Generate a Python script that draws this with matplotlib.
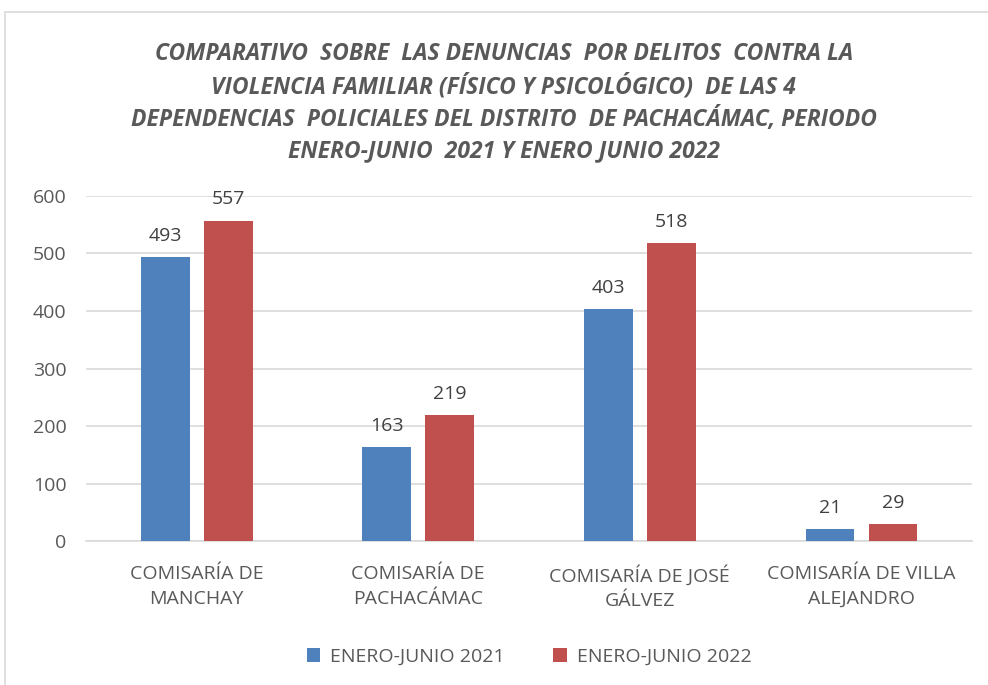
import matplotlib.pyplot as plt
import numpy as np
from matplotlib.patches import Rectangle

categorias = ['COMISARÍA DE\nMANCHAY', 'COMISARÍA DE\nPACHACÁMAC',
              'COMISARÍA DE JOSÉ\nGÁLVEZ', 'COMISARÍA DE VILLA\nALEJANDRO']
serie_2021 = [493, 163, 403, 21]
serie_2022 = [557, 219, 518, 29]
nombres = ['ENERO-JUNIO 2021', 'ENERO-JUNIO 2022']
titulo = ('COMPARATIVO  SOBRE  LAS DENUNCIAS  POR DELITOS  CONTRA LA\n'
          'VIOLENCIA FAMILIAR (FÍSICO Y PSICOLÓGICO)  DE LAS 4\n'
          'DEPENDENCIAS  POLICIALES DEL DISTRITO  DE PACHACÁMAC, PERIODO\n'
          'ENERO-JUNIO  2021 Y ENERO JUNIO 2022')

plt.rcParams['font.family'] = ['Open Sans', 'DejaVu Sans']
gris = '#595959'

fig = plt.figure(figsize=(9.88, 6.85), dpi=100)
ax = fig.add_axes([0.087, 0.21, 0.897, 0.504])

fig.patches.append(Rectangle((0.005, -0.01), 1.0, 0.993, transform=fig.transFigure,
                             fill=False, edgecolor='#d9d9d9', linewidth=1.2))

x = np.arange(len(categorias))
w = 0.22
off = 0.142
b1 = ax.bar(x - off, serie_2021, w, color='#4f81bd', label=nombres[0], zorder=3)
b2 = ax.bar(x + off, serie_2022, w, color='#c0504d', label=nombres[1], zorder=3)
for bars in (b1, b2):
    ax.bar_label(bars, padding=9, fontsize=14, color='#404040')

ax.set_xlim(-0.5, 3.5)
ax.set_ylim(0, 600)
ax.set_yticks(range(0, 601, 100))
ax.yaxis.grid(True, color='#d9d9d9', linewidth=1.2, zorder=0)
for s in ['top', 'right', 'left']:
    ax.spines[s].set_visible(False)
ax.spines['bottom'].set_color('#d9d9d9')
ax.spines['bottom'].set_linewidth(1.2)
ax.tick_params(axis='y', length=0, labelsize=14, labelcolor=gris, pad=14)
ax.tick_params(axis='x', length=0, labelsize=14, labelcolor=gris, pad=17)
ax.set_xticks(x)
ax.set_xticklabels(categorias, fontsize=14, linespacing=1.5)

fig.text(0.51, 0.85, titulo, ha='center', va='center', fontsize=16.5, fontweight='bold',
         fontstyle='italic', color=gris, linespacing=1.4,
         family=['Liberation Sans Narrow', 'Open Sans', 'DejaVu Sans'])

ax.legend(loc='center', bbox_to_anchor=(0.5, -0.335), ncol=2, frameon=False,
          fontsize=14, labelcolor=gris, handlelength=0.7, handleheight=0.7,
          columnspacing=2.5, handletextpad=0.5)

fig.savefig('out.png', dpi=100)
